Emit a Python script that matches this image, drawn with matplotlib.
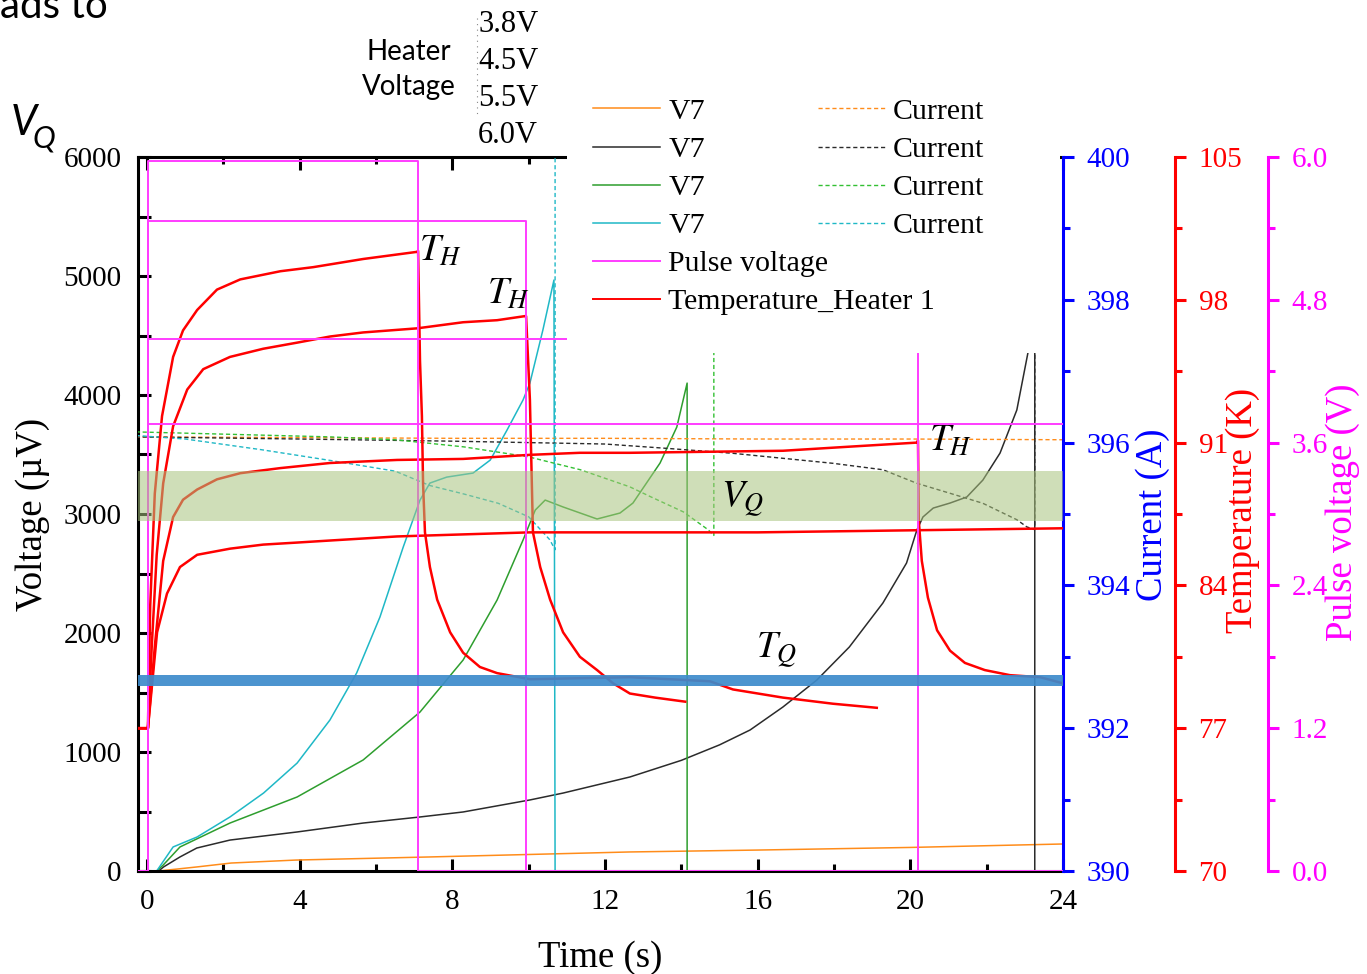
import matplotlib
matplotlib.use("Agg")
import matplotlib.pyplot as plt
from matplotlib.lines import Line2D
from matplotlib.patches import Rectangle
from matplotlib.ticker import MultipleLocator, FormatStrFormatter

plt.rcParams['font.family'] = ['Liberation Serif', 'DejaVu Serif']
plt.rcParams['mathtext.fontset'] = 'stix'

# ---- V7 voltage signals (uV) ----
t_v7_orange = [-0.3, 0.3, 1.3, 2.2, 3.9, 7.4, 12.65, 16.0, 20.0, 24.0]
v7_orange = [0, 0, 34, 67, 92, 118, 160, 176, 198, 227]

t_v7_black = [-0.3, 0.3, 0.43, 0.86, 1.3, 2.17, 3.93, 5.66, 7.15, 8.28, 10.03, 10.9,
              12.65, 14.0, 15.0, 15.8, 16.66, 17.55, 18.4, 19.28, 19.9, 20.17, 20.33,
              20.6, 21.04, 21.48, 21.9, 22.35, 22.79, 23.08, 23.26, 23.26, 24.0]
v7_black = [0, 0, 34, 118, 193, 260, 328, 403, 454, 496, 597, 655,
            790, 930, 1060, 1185, 1378, 1605, 1882, 2252, 2588, 2865, 2975,
            3050, 3092, 3143, 3285, 3512, 3874, 4353, 4650, 0, 0]

t_v7_green = [-0.3, 0.25, 0.42, 0.86, 2.17, 3.93, 5.66, 7.15, 8.28, 9.17, 9.85, 10.17,
              10.43, 10.9, 11.79, 12.39, 12.73, 13.44, 13.88, 14.15, 14.15, 24.0]
v7_green = [0, 0, 50, 202, 403, 622, 933, 1336, 1773, 2277, 2781, 3033,
            3117, 3059, 2958, 3008, 3092, 3428, 3731, 4100, 0, 0]

t_v7_cyan = [-0.3, 0.25, 0.68, 1.31, 2.17, 3.05, 3.93, 4.79, 5.49, 6.1, 6.71, 7.15,
             7.41, 7.85, 8.54, 8.99, 9.43, 9.85, 10.03, 10.37, 10.66, 10.69, 24.0]
v7_cyan = [0, 0, 202, 286, 454, 655, 907, 1269, 1664, 2134, 2722, 3117,
           3260, 3310, 3344, 3453, 3705, 3958, 4100, 4546, 4966, 0, 0]

# ---- magnet current (A) ----
t_cur_orange = [-0.3, 4.0, 8.0, 12.0, 16.0, 20.0, 24.0]
cur_orange = [396.08, 396.07, 396.06, 396.06, 396.05, 396.05, 396.04]

t_cur_black = [-0.3, 4.0, 8.0, 12.0, 13.6, 15.35, 16.66, 17.97, 19.28, 20.17, 21.04,
               21.9, 22.79, 23.05, 23.26, 23.26]
cur_black = [396.08, 396.05, 396.02, 395.98, 395.92, 395.85, 395.78, 395.71, 395.62,
             395.43, 395.29, 395.15, 394.92, 394.82, 394.78, 402.0]

t_cur_green = [-0.3, 4.8, 6.5, 8.3, 10.0, 11.35, 12.65, 13.2, 14.05, 14.7, 14.85, 14.85]
cur_green = [396.15, 396.08, 396.04, 395.94, 395.8, 395.62, 395.38, 395.24, 395.03,
             394.78, 394.7, 402.0]

t_cur_cyan = [-0.3, 1.0, 3.0, 4.8, 6.5, 7.4, 8.3, 9.2, 10.0, 10.55, 10.69, 10.69]
cur_cyan = [396.1, 396.05, 395.9, 395.75, 395.6, 395.4, 395.28, 395.15, 394.96,
            394.64, 394.5, 402.0]

# ---- heater temperature (K) ----
t_temp_a = [-0.3, 0.02, 0.08, 0.2, 0.39, 0.68, 0.94, 1.31, 1.83, 2.44, 3.49, 4.35,
            5.66, 7.07, 7.1, 7.15, 7.2, 7.23, 7.28, 7.41, 7.6, 7.94, 8.28, 8.72,
            9.17, 10.03, 11.34, 12.65, 14.75, 15.35, 16.66, 17.97, 19.12]
temp_a = [77.0, 77.0, 83.0, 88.5, 92.3, 95.2, 96.5, 97.5, 98.5, 99.0, 99.4, 99.6,
          100.0, 100.35, 100.4, 95.0, 92.3, 89.0, 86.6, 84.9, 83.3, 81.7, 80.7, 80.0,
          79.7, 79.4, 79.45, 79.5, 79.3, 78.9, 78.5, 78.2, 78.0]

t_temp_b = [-0.3, 0.02, 0.12, 0.25, 0.42, 0.68, 1.05, 1.47, 2.17, 3.04, 3.93, 4.79,
            5.66, 7.07, 8.28, 9.17, 9.9, 9.93, 10.03, 10.11, 10.3, 10.56, 10.9,
            11.34, 11.79, 12.21, 12.65, 13.31, 14.1]
temp_b = [77.0, 77.0, 81.0, 85.5, 89.0, 91.8, 93.6, 94.6, 95.2, 95.6, 95.9, 96.2,
          96.4, 96.6, 96.9, 97.0, 97.2, 97.2, 93.1, 86.6, 84.9, 83.3, 81.7,
          80.5, 79.85, 79.2, 78.7, 78.5, 78.3]

t_temp_c = [-0.3, 0.02, 0.2, 0.42, 0.68, 0.94, 1.31, 1.83, 2.44, 3.49, 4.79, 6.55,
            8.28, 10.03, 11.34, 12.65, 16.66, 18.4, 20.17, 20.2, 20.22, 20.3, 20.46,
            20.7, 21.04, 21.43, 21.95, 22.61, 23.4, 24.0]
temp_c = [77.0, 77.0, 81.0, 85.2, 87.35, 88.2, 88.7, 89.2, 89.5, 89.75, 90.0, 90.15,
          90.2, 90.4, 90.5, 90.5, 90.6, 90.8, 91.0, 91.1, 87.2, 85.2, 83.4,
          81.8, 80.8, 80.2, 79.85, 79.6, 79.5, 79.2]

t_temp_d = [-0.3, 0.02, 0.26, 0.52, 0.86, 1.31, 2.17, 3.04, 3.93, 4.79, 6.55, 8.28,
            10.03, 12.65, 16.0, 20.0, 24.0]
temp_d = [77.0, 77.0, 81.7, 83.6, 84.9, 85.5, 85.8, 86.0, 86.1, 86.2, 86.4, 86.5,
          86.6, 86.6, 86.6, 86.7, 86.8]

# ---- heater pulse voltage (V) ----
t_pulse_60 = [-0.3, 0.02, 0.02, 7.1, 7.1, 24.5]
pulse_60 = [0, 0, 5.97, 5.97, 0, 0]
t_pulse_55 = [-0.3, 0.02, 0.02, 9.93, 9.93, 24.5]
pulse_55 = [0, 0, 5.46, 5.46, 0, 0]
t_pulse_45 = [-0.3, 0.02, 0.02, 20.2, 20.2, 24.5]
pulse_45 = [0, 0, 4.47, 4.47, 0, 0]
t_pulse_38 = [-0.3, 0.02, 0.02, 24.5]
pulse_38 = [0, 0, 3.76, 3.76]

heater_labels = ['3.8V', '4.5V', '5.5V', '6.0V']

# highlighted bands (uV)
vq_band = (2940, 3360)
tq_band = (1555, 1647)

c_orange = '#ff8c1a'
c_black = '#2b2b2b'
c_green = '#2e9e2e'
c_cyan = '#1fb8c6'
c_mag = '#ff3cff'
c_red = '#ff0000'
serif = 'Liberation Serif'

W, H = 1367, 974
fig = plt.figure(figsize=(W / 100, H / 100), dpi=100)
ax = fig.add_axes([138 / W, 103 / H, 925 / W, 714 / H])

ax.plot(t_v7_orange, v7_orange, color=c_orange, lw=1.1)
ax.plot(t_v7_black, v7_black, color=c_black, lw=1.1)
ax.plot(t_v7_green, v7_green, color=c_green, lw=1.1)
ax.plot(t_v7_cyan, v7_cyan, color=c_cyan, lw=1.1)
ax.set_xlim(-0.24, 24)
ax.set_ylim(0, 6000)

axI = ax.twinx()
axT = ax.twinx()
axP = ax.twinx()
axB = ax.twinx()

cur_style = dict(lw=1.0, ls=(0, (3, 2)))
axI.plot(t_cur_orange, cur_orange, color=c_orange, **cur_style)
axI.plot(t_cur_black, cur_black, color=c_black, **cur_style)
axI.plot(t_cur_green, cur_green, color='#33c033', **cur_style)
axI.plot(t_cur_cyan, cur_cyan, color=c_cyan, **cur_style)
axI.set_ylim(390, 400)

for tt, yy in [(t_temp_a, temp_a), (t_temp_b, temp_b), (t_temp_c, temp_c), (t_temp_d, temp_d)]:
    axT.plot(tt, yy, color=c_red, lw=1.8)
axT.set_ylim(70, 105)

for tt, yy in [(t_pulse_60, pulse_60), (t_pulse_55, pulse_55),
               (t_pulse_45, pulse_45), (t_pulse_38, pulse_38)]:
    axP.plot(tt, yy, color=c_mag, lw=1.4)
axP.set_ylim(0, 6)

# bands on top of everything
axB.set_ylim(0, 6000)
axB.axhspan(*vq_band, color='#a9c47f', alpha=0.55, lw=0)
axB.axhspan(*tq_band, color='#3d8bcb', alpha=0.92, lw=0)
axB.axis('off')

# spines and ticks
lw_sp = 2.2
for s in ['left', 'bottom', 'top']:
    ax.spines[s].set_linewidth(lw_sp)
ax.spines['right'].set_visible(False)
ax.xaxis.set_major_locator(MultipleLocator(4))
ax.xaxis.set_minor_locator(MultipleLocator(2))
ax.yaxis.set_major_locator(MultipleLocator(1000))
ax.yaxis.set_minor_locator(MultipleLocator(500))
ax.xaxis.set_major_formatter(FormatStrFormatter('%d'))
ax.yaxis.set_major_formatter(FormatStrFormatter('%d'))
ax.tick_params(axis='x', which='both', direction='in', top=True, width=lw_sp,
               labelsize=21, pad=13, labelfontfamily=serif)
ax.tick_params(axis='x', which='major', length=9)
ax.tick_params(axis='x', which='minor', length=5)
ax.tick_params(axis='y', which='both', direction='in', right=False, width=lw_sp,
               length=9, labelsize=21, pad=12, labelfontfamily=serif)

for a in (axI, axT, axP):
    for s in ['left', 'bottom', 'top']:
        a.spines[s].set_visible(False)
axT.spines['right'].set_position(('axes', 1.121))
axP.spines['right'].set_position(('axes', 1.2216))

for a, col, maj, mnr, fmt in [(axI, '#0000ff', 2, 1, '%d'), (axT, c_red, 7, 3.5, '%d'),
                              (axP, '#ff00ff', 1.2, 0.6, '%.1f')]:
    a.spines['right'].set_color(col)
    a.spines['right'].set_linewidth(lw_sp)
    a.yaxis.set_major_locator(MultipleLocator(maj))
    a.yaxis.set_minor_locator(MultipleLocator(mnr))
    a.yaxis.set_major_formatter(FormatStrFormatter(fmt))
    a.tick_params(axis='y', which='both', direction='out', color=col, labelcolor=col,
                  width=lw_sp, labelsize=21, pad=9, labelfontfamily=serif)
    a.tick_params(axis='y', which='major', length=8)
    a.tick_params(axis='y', which='minor', length=5)

# axis labels
lab_fs = 26.5
ax.set_xlabel('Time (s)', fontsize=lab_fs)
ax.xaxis.set_label_coords(0.5, -0.097)
ax.set_ylabel('Voltage (\u00b5V)', fontsize=lab_fs)
ax.yaxis.set_label_coords(-0.095, 0.5)
axI.set_ylabel('Current (A)', fontsize=lab_fs, color='#0000ff')
axI.yaxis.set_label_coords(1.078, 0.499)
axT.set_ylabel('Temperature (K)', fontsize=lab_fs, color=c_red)
axT.yaxis.set_label_coords(1.175, 0.505)
axP.set_ylabel('Pulse voltage (V)', fontsize=lab_fs, color='#ff00ff')
axP.yaxis.set_label_coords(1.284, 0.503)

# annotations on the curves
ann = dict(fontsize=27, ha='left', va='center', zorder=10)
axB.text(7.12, 5201, r'$T_H$', **ann)
axB.text(8.9, 4840, r'$T_H$', **ann)
axB.text(20.48, 3605, r'$T_H$', **ann)
axB.text(15.03, 3134, r'$V_Q$', **ann)
axB.text(15.95, 1857, r'$T_Q$', **ann)

# white area behind the legends
fig.patches.append(Rectangle((567 / W, 1 - 353 / H), (1060 - 567) / W, (353 - 80) / H,
                             transform=fig.transFigure, facecolor='white',
                             edgecolor='none', zorder=2))

leg_kw = dict(loc='upper left', frameon=False, fontsize=21.5, handlelength=2.25,
              handletextpad=0.27, labelspacing=0.375, borderpad=0, borderaxespad=0)
h_left = [Line2D([], [], color=c, lw=1.1) for c in (c_orange, c_black, c_green, c_cyan)]
h_left += [Line2D([], [], color=c_mag, lw=1.4), Line2D([], [], color=c_red, lw=1.4)]
l_left = ['V7', 'V7', 'V7', 'V7', 'Pulse voltage', 'Temperature_Heater 1']
fig.legend(h_left, l_left, bbox_to_anchor=(593 / W, 1 - 98 / H), **leg_kw)
h_right = [Line2D([], [], color=c, lw=1.0, ls=(0, (3, 2)))
           for c in (c_orange, c_black, '#33c033', c_cyan)]
fig.legend(h_right, ['Current'] * 4, bbox_to_anchor=(818 / W, 1 - 98 / H), **leg_kw)

# texts outside the plot
fig.text(0, 1 - 18 / H, 'ads to', fontsize=29, family='Lato', va='baseline')
fig.text(409 / W, 1 - 60 / H, 'Heater', fontsize=20, family='Lato',
         ha='center', va='baseline')
fig.text(409 / W, 1 - 95 / H, 'Voltage', fontsize=20, family='Lato',
         ha='center', va='baseline')
for i, lab in enumerate(heater_labels):
    fig.text(478 / W, 1 - (32 + 37 * i) / H, lab, fontsize=22, va='baseline')
fig.add_artist(Line2D([477 / W, 477 / W], [1 - 18 / H, 1 - 115 / H], color='#888888',
                      lw=0.8, ls=(0, (1, 4))))
fig.text(11 / W, 1 - 135 / H, 'V', fontsize=30, family='Lato', style='italic',
         va='baseline')
fig.text(33 / W, 1 - 147 / H, 'Q', fontsize=22, family='Lato', style='italic',
         va='baseline')

fig.savefig('out.png', dpi=100)
